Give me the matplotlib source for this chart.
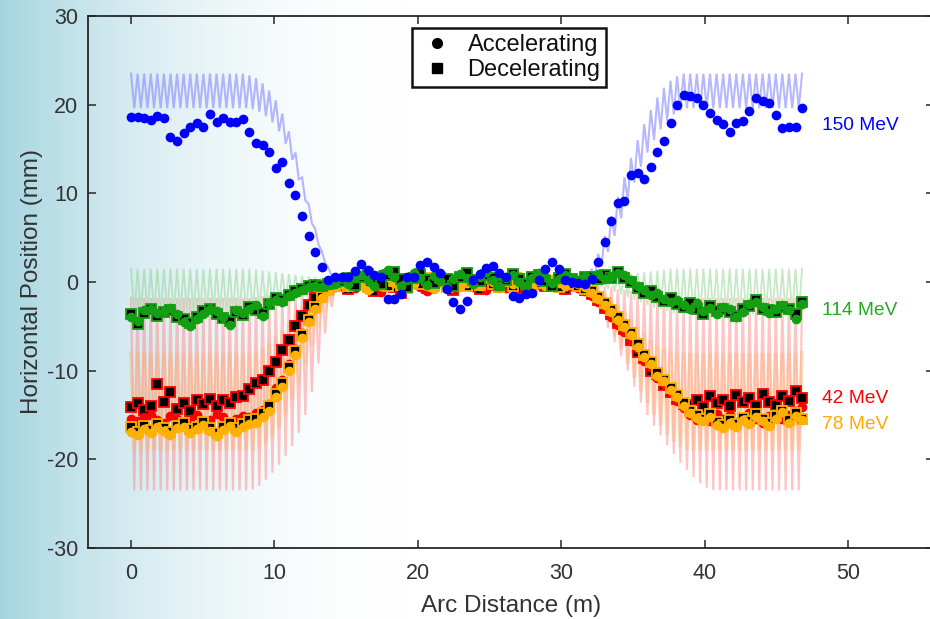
import numpy as np
import matplotlib
matplotlib.use("Agg")
import matplotlib.pyplot as plt
from matplotlib.lines import Line2D

plt.rcParams['font.family'] = ['Liberation Sans', 'DejaVu Sans']
plt.rcParams['axes.unicode_minus'] = False

# ---------------- data ----------------
# BPM positions along the arc (m): one BPM per cell
n_bpm = 103
arc_length = 46.8
s_bpm = np.linspace(0, arc_length, n_bpm)

# 150 MeV (accelerating only)
y150_acc = [18.6, 18.6, 18.5, 18.3, 18.7, 18.5,
            16.4, 15.9, 16.8, 17.5, 17.9, 17.5, 19.0, 18.0, 18.5, 18.0, 18.0, 18.4,
            16.9, 15.7, 15.5, 14.7, 12.9, 13.5,
            11.2, 9.8, 7.5, 5.2, 3.4, 1.7,
            0.2, 0.6, 0.6, 0.6, 1.2,
            2.0, 1.4, 0.8, 0.6, -1.9, -1.9, -1.3, 0.6, 0.6,
            1.9, 2.3, 1.7, 1.0, -0.8, -2.2, -3.1, -2.1, 0.2, 0.9,
            1.6, 1.8, 1.0, 0.6, -1.6, -1.8, -1.3, -1.2, 0.2, 1.5, 2.2, 1.5,
            0.2, 0.0, -0.1, -0.2, 0.3, 2.2, 4.5, 6.9, 8.9, 9.1,
            12.1, 12.3, 11.6, 13.0, 14.7, 15.9, 17.9, 20.0, 21.1, 21.0, 20.8, 20.0,
            19.1, 18.3, 17.8, 16.9, 17.9, 18.2, 19.3, 20.7,
            20.4, 20.2, 18.8, 17.4, 17.5, 17.5, 19.6]

# 114 MeV
y114_acc = ([-3.9, -4.4, -3.2, -3.0, -3.5, -3.3, -2.9, -3.6, -4.5, -5.0, -4.2, -3.6, -3.1, -3.3, -3.9, -4.8, -3.2, -3.5]
            + [-3.0, -2.6, -3.8, -2.4, -2.0, -2.2, -1.6, -1.2, -0.9, -0.6, -0.4, -0.6, -0.3, -0.2]
            + [0.3, -0.2, 0.5, 0.8, 0.2, -0.4, 0.9, 1.3, 0.6, -0.5, 0.2, 1.0, 0.4, -0.3, 0.7, 0.1, -0.6, 0.3, 0.9,
               0.5, -0.2, 0.6, 1.1, 0.2, -0.4, 0.5, 0.8, 0.0, -0.5, 0.4, 1.0, 0.6, -0.1, 0.3, 0.8, 0.5, 0.2, 0.7]
            + [0.4, 0.9, 0.3, 0.6, 1.0, 0.8, 0.2, -0.4, -0.9, -1.5, -1.2, -1.9, -2.3, -2.0]
            + [-2.6, -3.0, -2.4, -3.3, -2.9, -3.6, -2.8, -3.1, -4.0, -3.4, -2.5, -2.2, -2.8, -3.5, -3.0, -2.6, -3.2, -4.2, -2.5])
y114_dec = ([-3.6, -4.7, -3.5, -3.1, -3.8, -3.4, -3.2, -3.9, -4.2, -4.6, -3.9, -3.3, -3.0, -3.6, -4.1, -4.4, -3.4, -3.7]
            + [-2.8, -3.2, -3.5, -2.5, -1.8, -2.0, -1.5, -1.0, -0.8, -0.5, -0.3, -0.5, -0.2, 0.0]
            + [0.1, 0.4, -0.3, 0.6, 0.9, 0.1, -0.2, 0.8, 1.1, 0.3, -0.6, 0.4, 0.9, 0.2, -0.1, 0.5, 0.3, -0.5, 0.6,
               1.0, 0.2, 0.1, 0.8, 0.5, -0.3, 0.2, 0.9, 0.3, -0.2, 0.6, 0.8, 0.1, -0.4, 0.5, 0.9, 0.3, 0.0, 0.6]
            + [0.6, 0.3, 0.8, 0.5, 1.1, 0.4, 0.0, -0.7, -1.2, -1.0, -1.7, -2.1, -1.8, -2.5]
            + [-2.8, -2.4, -3.1, -3.6, -2.7, -3.3, -3.0, -3.4, -3.8, -3.1, -2.7, -2.0, -3.0, -3.2, -3.4, -2.8, -3.0, -3.6, -2.3])

# 42 MeV
y42_dec = ([-14.1, -13.6, -14.4, -14.0, -11.5, -13.5, -12.4, -14.3, -13.7, -14.5, -13.3, -13.8, -13.2, -14.0, -13.3, -13.6, -13.0, -12.9]
           + [-12.1, -11.4, -11.1, -10.0, -9.0, -7.7, -6.5, -5.0, -3.8, -2.6, -1.8, -1.2, -0.8, -0.5]
           + [-0.3, -0.8, -0.2, 0.3, -0.5, -1.0, -0.4, 0.2, -0.6, -1.2, -0.3, 0.4, -0.2, -0.7, -0.1, 0.3, -0.5, -0.9, -0.2,
              0.2, -0.4, -0.8, 0.1, -0.3, -0.6, 0.2, -0.1, -0.7, -0.4, 0.3, -0.2, -0.5, 0.0, -0.3, -0.8, -0.2, -0.5, -0.9]
           + [-1.4, -2.0, -2.9, -3.6, -4.6, -5.3, -6.5, -7.9, -8.6, -10.0, -10.4, -11.6, -12.4, -13.2]
           + [-13.8, -13.9, -13.3, -14.1, -12.9, -13.7, -13.3, -14.0, -12.8, -13.5, -13.1, -14.0, -12.6, -13.5, -13.9, -12.9, -13.4, -12.3, -13.1])
y42_acc = ([-15.4, -15.7, -15.2, -15.0, -15.6, -15.9, -15.1, -15.4, -15.8, -15.5, -15.0, -15.7, -15.6, -14.9, -15.2, -15.9, -15.5, -15.1]
           + [-15.2, -14.8, -14.4, -13.8, -12.0, -11.0, -9.2, -7.5, -5.8, -4.2, -2.8, -1.6, -0.9, -0.6]
           + [-0.4, 0.1, -0.7, -0.2, 0.3, -0.5, -1.1, -0.3, 0.2, -0.8, -0.4, 0.0, -0.6, -1.0, -0.2, 0.3, -0.4, -0.8, -0.1,
              0.2, -0.6, -0.3, -0.9, 0.1, -0.2, -0.7, -0.4, 0.2, -0.3, -0.8, -0.1, -0.5, -0.2, 0.1, -0.6, -0.4, -0.7, -1.0]
           + [-1.6, -2.3, -3.1, -3.9, -4.8, -5.6, -6.7, -7.6, -8.9, -9.6, -10.8, -11.5, -12.4, -13.4]
           + [-14.2, -15.0, -15.6, -15.1, -15.7, -14.9, -15.4, -15.0, -15.8, -15.2, -14.8, -15.5, -15.9, -15.1, -14.8, -15.4, -15.0, -14.5, -14.1])

# 78 MeV
y78_acc = ([-16.9, -17.3, -16.6, -17.0, -16.4, -16.8, -17.2, -16.5, -16.3, -17.0, -16.6, -16.1, -16.8, -17.4, -16.7, -16.2, -16.9, -16.4]
           + [-16.0, -15.9, -15.2, -14.5, -13.0, -11.8, -10.0, -8.2, -6.3, -4.5, -3.0, -1.8, -1.0, -0.6]
           + [-0.2, -0.6, 0.4, -0.3, -0.9, 0.2, -0.4, 0.6, -0.1, -0.7, 0.3, -0.2, 0.5, -0.5, -0.8, 0.1, -0.3, 0.4, -0.6,
              -0.1, 0.3, -0.4, 0.6, 0.0, -0.5, 0.2, -0.2, 0.7, -0.3, -0.6, 0.1, -0.4, 0.3, -0.1, -0.5, 0.2, -0.2, -0.6]
           + [-1.2, -1.9, -2.6, -3.4, -4.3, -5.1, -6.0, -7.3, -8.5, -9.3, -10.6, -11.2, -12.2, -13.0]
           + [-14.0, -14.8, -15.3, -15.7, -15.2, -16.1, -16.5, -15.9, -16.3, -15.6, -16.0, -15.2, -15.7, -16.2, -15.4, -14.7, -15.9, -15.1, -15.6])
y78_dec = ([-16.4, -16.9, -16.2, -16.7, -16.0, -16.5, -16.9, -16.2, -15.9, -16.6, -16.3, -15.8, -16.5, -17.0, -16.4, -15.9, -16.5, -16.0]
           + [-15.6, -15.4, -14.8, -14.0, -12.6, -11.4, -9.6, -7.8, -6.0, -4.3, -2.8, -1.7, -0.9, -0.4]
           + [0.0, -0.4, -0.1, 0.3, -0.6, -0.2, 0.4, -0.5, 0.1, -0.3, -0.7, 0.2, -0.2, 0.4, -0.4, 0.0, -0.6, 0.3, -0.1,
              -0.5, 0.2, -0.3, 0.4, -0.2, -0.6, 0.1, -0.4, 0.3, 0.0, -0.5, -0.1, 0.2, -0.3, -0.6, 0.0, -0.2, -0.4, -0.8]
           + [-1.0, -1.7, -2.4, -3.2, -4.0, -4.9, -5.7, -7.0, -8.2, -9.0, -10.3, -11.0, -11.9, -12.8]
           + [-13.7, -14.5, -15.0, -15.5, -14.9, -15.8, -16.1, -15.6, -16.0, -15.3, -15.7, -14.9, -15.4, -15.9, -15.1, -14.5, -15.6, -14.8, -15.4])

# Simulated orbit oscillation: per-cell maximum / minimum of the orbit (mm)
orb150_hi = ([23.5] * 18
             + [23.3, 23.0, 22.4, 21.6, 20.5, 19.0, 17.0, 14.6, 11.8, 8.8, 6.0, 3.5, 1.6, 0.6]
             + [0.3] * 38
             + [1.5, 3.2, 5.2, 7.4, 9.6, 11.8, 14.0, 16.0, 17.8, 19.4, 20.8, 21.9, 22.7, 23.2]
             + [23.5] * 19)
orb150_lo = ([19.6] * 18
             + [19.5, 19.2, 18.7, 18.0, 17.0, 15.6, 13.8, 11.6, 9.2, 6.6, 4.2, 2.2, 0.7, -0.1]
             + [-0.3] * 38
             + [0.5, 1.8, 3.4, 5.2, 7.2, 9.2, 11.2, 13.0, 14.6, 16.0, 17.2, 18.2, 18.9, 19.3]
             + [19.6] * 19)
orb114_hi = ([1.5] * 18
             + [1.5, 1.4, 1.3, 1.2, 1.1, 1.0, 0.9, 0.8, 0.7, 0.6, 0.5, 0.4, 0.3, 0.3]
             + [0.3] * 38
             + [0.3, 0.4, 0.5, 0.6, 0.7, 0.8, 0.9, 1.0, 1.1, 1.2, 1.3, 1.4, 1.5, 1.5]
             + [1.5] * 19)
orb114_lo = ([-3.6] * 18
             + [-3.5, -3.3, -3.0, -2.7, -2.4, -2.1, -1.8, -1.5, -1.2, -0.9, -0.7, -0.5, -0.4, -0.3]
             + [-0.3] * 38
             + [-0.4, -0.6, -0.8, -1.1, -1.4, -1.7, -2.0, -2.3, -2.6, -2.9, -3.1, -3.3, -3.5, -3.6]
             + [-3.6] * 19)
orb78_hi = ([-8.0] * 18
            + [-8.0, -7.8, -7.4, -6.9, -6.2, -5.4, -4.5, -3.6, -2.7, -1.9, -1.2, -0.7, -0.4, -0.3]
            + [0.3] * 38
            + [-0.4, -0.8, -1.4, -2.0, -2.7, -3.4, -4.2, -5.0, -5.8, -6.5, -7.1, -7.5, -7.8, -8.0]
            + [-8.0] * 19)
orb78_lo = ([-19.0] * 18
            + [-19.0, -18.8, -18.3, -17.5, -16.4, -15.0, -13.3, -11.4, -9.3, -7.2, -5.2, -3.4, -1.9, -0.8]
            + [-0.3] * 38
            + [-1.5, -3.0, -4.5, -6.0, -7.6, -9.2, -10.8, -12.3, -13.7, -15.0, -16.2, -17.2, -18.0, -18.6]
            + [-19.0] * 19)
orb42_hi = ([-1.8] * 18
            + [-1.8, -1.7, -1.6, -1.5, -1.4, -1.3, -1.2, -1.0, -0.9, -0.8, -0.6, -0.5, -0.4, -0.3]
            + [0.3] * 38
            + [-0.3, -0.4, -0.5, -0.6, -0.8, -0.9, -1.0, -1.2, -1.3, -1.4, -1.5, -1.6, -1.7, -1.8]
            + [-1.8] * 19)
orb42_lo = ([-23.5] * 18
            + [-23.4, -23.0, -22.3, -21.5, -20.6, -19.6, -18.5, -17.0, -15.0, -12.4, -9.2, -5.8, -2.8, -0.9]
            + [-0.3] * 38
            + [-1.5, -3.4, -5.2, -6.8, -8.4, -10.0, -11.8, -13.6, -15.0, -16.2, -17.3, -18.4, -19.4, -20.4]
            + [-21.2, -22.0, -22.7, -23.2] + [-23.5] * 15)

energy_labels = ["150 MeV", "114 MeV", "42 MeV", "78 MeV"]
label_y = [17.6, -3.2, -13.1, -16.1]

c_blue, c_green, c_red, c_orange = "#0000ff", "#12a012", "#ff0000", "#ffb000"
txt = '#333333'

# ---------------- figure ----------------
W, H = 930, 619
fig = plt.figure(figsize=(W / 100, H / 100), dpi=100)

# gradient background
bg = fig.add_axes([0, 0, 1, 1], zorder=-10)
xs = np.linspace(0, 1, 600)
c0 = np.array([166, 213, 224]) / 255.0
c1 = np.array([1.0, 1.0, 1.0])
t = np.clip(xs / 0.44, 0, 1)
t = 1 - (1 - t) ** 2
grad = c0[None, :] * (1 - t[:, None]) + c1[None, :] * t[:, None]
bg.imshow(grad[None, :, :], aspect='auto', extent=[0, 1, 0, 1], interpolation='bilinear')
bg.set_axis_off()

ax = fig.add_axes([88 / W, (H - 548) / H, 846 / W, 532 / H])
ax.patch.set_alpha(0)

half = (s_bpm[1] - s_bpm[0]) / 2


def orbit(hi, lo):
    hi = np.asarray(hi)
    lo = np.asarray(lo)
    assert len(hi) == n_bpm and len(lo) == n_bpm
    x = np.column_stack([s_bpm, s_bpm + half]).ravel()
    y = np.column_stack([hi, lo]).ravel()
    return x[:-1], y[:-1]


for hi, lo, col, lw, al in [(orb42_hi, orb42_lo, "#ff8080", 1.6, 0.45),
                            (orb78_hi, orb78_lo, "#ffb070", 2.8, 0.38),
                            (orb114_hi, orb114_lo, "#80d080", 1.3, 0.45),
                            (orb150_hi, orb150_lo, "#8888ff", 1.5, 0.6)]:
    x, y = orbit(hi, lo)
    ax.plot(x, y, color=col, lw=lw, alpha=al, zorder=1, solid_joinstyle='miter')

ms_c = 7.0
ms_s = 7.2
for yv in [y42_dec, y42_acc, y78_dec, y78_acc, y114_dec, y114_acc, y150_acc]:
    assert len(yv) == n_bpm, len(yv)

ax.plot(s_bpm, y42_dec, 's', ms=ms_s, mfc='black', mec=c_red, mew=1.3, zorder=3)
ax.plot(s_bpm, y42_acc, 'o', ms=ms_c, mfc=c_red, mec=c_red, mew=0, zorder=3)
ax.plot(s_bpm, y78_dec, 's', ms=ms_s, mfc='black', mec=c_orange, mew=1.3, zorder=4)
ax.plot(s_bpm, y78_acc, 'o', ms=ms_c, mfc=c_orange, mec=c_orange, mew=0, zorder=4)
ax.plot(s_bpm, y114_dec, 's', ms=ms_s, mfc='black', mec=c_green, mew=1.3, zorder=5)
ax.plot(s_bpm, y114_acc, 'o', ms=ms_c, mfc=c_green, mec=c_green, mew=0, zorder=5)
ax.plot(s_bpm, y150_acc, 'o', ms=ms_c, mfc=c_blue, mec=c_blue, mew=0, zorder=6)

for lab, yy, col in zip(energy_labels, label_y, [c_blue, "#22aa22", c_red, "#ffaa00"]):
    ax.text(48.2, yy, lab, color=col, fontsize=13.8, va='center', ha='left')

ax.set_xlim(-3, 56)
ax.set_ylim(-30, 30)
ax.set_xticks([0, 10, 20, 30, 40, 50])
ax.set_yticks([-30, -20, -10, 0, 10, 20, 30])
ax.tick_params(direction='in', length=6, width=1.1, top=True, right=True,
               labelsize=15.5, colors='#262626', labelcolor=txt)
ax.tick_params(axis='x', pad=11)
ax.tick_params(axis='y', pad=7)
for sp in ax.spines.values():
    sp.set_linewidth(1.3)
    sp.set_color('#262626')
ax.set_xlabel("Arc Distance (m)", fontsize=17.5, color=txt, labelpad=8)
ax.set_ylabel("Horizontal Position (mm)", fontsize=17.5, color=txt, labelpad=3)

handles = [Line2D([], [], ls='none', marker='o', color='black', ms=7),
           Line2D([], [], ls='none', marker='s', color='black', ms=7)]
leg = ax.legend(handles, ["Accelerating", "Decelerating"], loc='upper left',
                bbox_to_anchor=(0.383, 0.977), borderaxespad=0, fontsize=17,
                frameon=True, fancybox=False, handletextpad=0.5, handlelength=1.6,
                borderpad=0.25, labelspacing=0.12)
for t_ in leg.get_texts():
    t_.set_color('#111111')
leg.get_frame().set_edgecolor('#111111')
leg.get_frame().set_linewidth(1.8)
leg.get_frame().set_facecolor('white')
leg.get_frame().set_alpha(1)
leg.set_zorder(10)

fig.savefig("out.png", dpi=100)
